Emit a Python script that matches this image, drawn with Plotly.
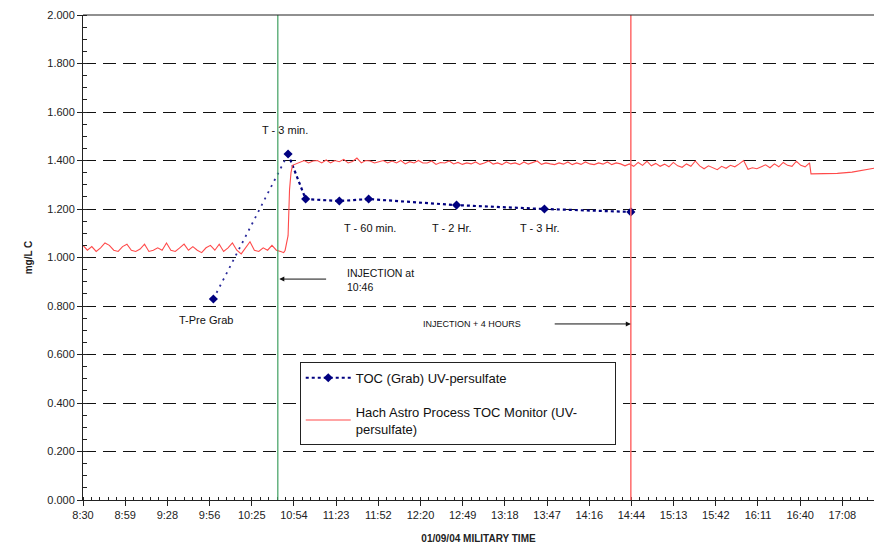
import pandas as pd
import plotly.graph_objects as go

DAY = "2004-01-09 "

# TOC grab samples (UV-persulfate)
grab_times = ["09:59", "10:50", "11:02", "11:25", "11:45", "12:45", "13:45", "14:44"]
grab_values = [0.829, 1.427, 1.241, 1.233, 1.241, 1.216, 1.200, 1.188]

# Hach Astro process monitor (read every 3 min)
hach_base_start = "08:30"
hach_base = [1.05, 1.03, 1.045, 1.025, 1.04, 1.06, 1.05, 1.03, 1.025, 1.045,
             1.055, 1.03, 1.025, 1.035, 1.055, 1.025, 1.03, 1.04, 1.03, 1.06,
             1.03, 1.025, 1.04, 1.055, 1.03, 1.045, 1.03, 1.02, 1.04, 1.05,
             1.03, 1.055, 1.025, 1.04, 1.06, 1.03, 1.015, 1.04, 1.065, 1.03,
             1.025, 1.04, 1.03, 1.05, 1.03, 1.025]
hach_rise_times = ["10:47", "10:48", "10:49", "10:50", "10:51", "10:52", "10:53"]
hach_rise = [1.02, 1.03, 1.07, 1.09, 1.28, 1.35, 1.38]
hach_high_start = "10:55"
hach_high = [1.385, 1.395, 1.40, 1.39, 1.398, 1.40, 1.39, 1.402, 1.39, 1.40,
             1.395, 1.405, 1.39, 1.396, 1.41, 1.39, 1.40, 1.398, 1.39, 1.395,
             1.40, 1.39, 1.398, 1.39, 1.40, 1.386, 1.395, 1.39, 1.40, 1.39,
             1.39, 1.398, 1.384, 1.392, 1.39, 1.398, 1.386, 1.392, 1.384, 1.39,
             1.386, 1.394, 1.384, 1.39, 1.398, 1.385, 1.39, 1.383, 1.394, 1.386,
             1.39, 1.383, 1.394, 1.385, 1.39, 1.398, 1.384, 1.39, 1.386, 1.383,
             1.39, 1.385, 1.394, 1.383, 1.39, 1.384, 1.394, 1.386, 1.383, 1.39,
             1.385, 1.394, 1.383, 1.39, 1.386, 1.378, 1.386, 1.376, 1.392, 1.38,
             1.397, 1.378, 1.388, 1.376, 1.385, 1.374, 1.392, 1.378, 1.372, 1.386,
             1.376, 1.398, 1.378, 1.366, 1.378, 1.37, 1.362, 1.376, 1.368, 1.38,
             1.374, 1.386, 1.40, 1.364, 1.37, 1.366, 1.375, 1.382, 1.37, 1.386,
             1.374, 1.392, 1.38, 1.376, 1.397, 1.38, 1.374, 1.39]
hach_tail_times = ["16:47", "17:05", "17:15", "17:30"]
hach_tail = [1.345, 1.347, 1.352, 1.368]

x_tick_labels = ["8:30", "8:59", "9:28", "9:56", "10:25", "10:54", "11:23", "11:52",
                 "12:20", "12:49", "13:18", "13:47", "14:16", "14:44", "15:13",
                 "15:42", "16:11", "16:40", "17:08"]

injection_time = "10:43"
plus4_time = "14:44"

def ts(t):
    return pd.Timestamp(DAY + t)

hach_x = (list(pd.date_range(ts(hach_base_start), periods=len(hach_base), freq="3min"))
          + [ts(t) for t in hach_rise_times]
          + list(pd.date_range(ts(hach_high_start), periods=len(hach_high), freq="3min"))
          + [ts(t) for t in hach_tail_times])
hach_y = hach_base + hach_rise + hach_high + hach_tail

start = ts("08:30")
step = pd.Timedelta(minutes=28.8)
tickvals = [start + i * step for i in range(len(x_tick_labels))]

font = "Liberation Sans, Arial, sans-serif"
grab_x = [ts(t) for t in grab_times]

fig = go.Figure()
# sparse dotted segment from the pre-grab to T-3 min
fig.add_trace(go.Scatter(
    x=grab_x[:2], y=grab_values[:2], mode="lines", showlegend=False, hoverinfo="skip",
    line=dict(color="#2a2a9a", dash="2px,5px", width=1.8)))
fig.add_trace(go.Scatter(
    x=grab_x[1:], y=grab_values[1:], mode="lines", showlegend=False, hoverinfo="skip",
    line=dict(color="#000080", dash="dot", width=2.2)))
fig.add_trace(go.Scatter(
    x=grab_x, y=grab_values, mode="markers", showlegend=False,
    name="TOC (Grab) UV-persulfate", legendgroup="g1",
    marker=dict(symbol="diamond", size=7, color="#000080")))
# legend entry for the grab series (line + marker sample)
fig.add_trace(go.Scatter(
    x=[None], y=[None], mode="lines+markers", name="TOC (Grab) UV-persulfate",
    legendgroup="g1", showlegend=True,
    line=dict(color="#000080", dash="dot", width=2),
    marker=dict(symbol="diamond", size=7, color="#000080")))
fig.add_trace(go.Scatter(
    x=hach_x, y=hach_y, mode="lines", legendgroup="g2",
    name="Hach Astro Process TOC Monitor (UV-" + "&nbsp;" * 9 + "<br>persulfate)",
    line=dict(color="#ff4a4a", width=1.1)))

fig.add_vline(x=ts(injection_time), line=dict(color="#3f9f60", width=1.2), layer="above")
fig.add_vline(x=ts(plus4_time), line=dict(color="#ff6a6a", width=1.5), layer="above")

ann_font = dict(family=font, size=11, color="#111")
texts = [
    ("10:48", 1.525, "T - 3 min.", "center"),
    ("11:46", 1.12, "T - 60 min.", "center"),
    ("12:42", 1.12, "T - 2 Hr.", "center"),
    ("13:42", 1.12, "T - 3 Hr.", "center"),
    ("09:54", 0.742, "T-Pre Grab", "center"),
]
for t, y, s, al in texts:
    fig.add_annotation(x=ts(t), y=y, text=s, showarrow=False, xanchor=al, font=ann_font)
fig.add_annotation(x=ts("11:29"), y=0.907, text="INJECTION at<br>10:46", showarrow=False,
                   xanchor="left", align="left", font=dict(family=font, size=10.5, color="#111"))
fig.add_annotation(x=ts("10:44"), y=0.911, ax=ts("11:17"), ay=0.911, axref="x", ayref="y",
                   text="", showarrow=True, arrowhead=2, arrowsize=1, arrowwidth=1, arrowcolor="#111")
fig.add_annotation(x=ts("12:21"), y=0.726, text="INJECTION + 4 HOURS", showarrow=False,
                   xanchor="left", font=dict(family=font, size=9, color="#111"))
fig.add_annotation(x=ts("14:44"), y=0.726, ax=ts("13:51"), ay=0.726, axref="x", ayref="y",
                   text="", showarrow=True, arrowhead=2, arrowsize=1, arrowwidth=1, arrowcolor="#111")

fig.update_layout(
    width=874, height=548, margin=dict(l=83, r=0, t=15, b=48),
    paper_bgcolor="white", plot_bgcolor="white",
    font=dict(family=font, size=11, color="#222"),
    showlegend=True,
    legend=dict(x=0.274, y=0.285, xanchor="left", yanchor="top",
                bgcolor="white", bordercolor="#222", borderwidth=1,
                font=dict(family=font, size=13, color="#111"),
                tracegroupgap=14, itemwidth=45),
    xaxis=dict(range=[ts("08:30"), ts("17:30")], tickmode="array", tickvals=tickvals,
               ticktext=x_tick_labels, showgrid=False, showline=True, linecolor="#222",
               mirror=False, ticks="outside", ticklen=5, tickcolor="#222",
               minor=dict(ticks="inside", ticklen=3, tick0=start, dtick=5.76 * 60000,
                          tickcolor="#222", showgrid=False),
               title=dict(text="<b>01/09/04 MILITARY TIME</b>", font=dict(size=10, color="#222"),
                          standoff=14),
               zeroline=False),
    yaxis=dict(range=[0, 2], dtick=0.2, tickformat=".3f", showline=True, linecolor="#222",
               ticks="outside", ticklen=5, tickcolor="#222",
               showgrid=True, gridcolor="#111", griddash="13px,7px", gridwidth=1,
               minor=dict(ticks="inside", ticklen=4, dtick=0.05, tickcolor="#222", showgrid=False),
               title=dict(text="<b>mg/L C</b>", font=dict(size=10, color="#222"), standoff=12),
               zeroline=False),
)
fig.add_shape(type="line", xref="paper", yref="paper", x0=0, x1=1, y0=1, y1=1,
              line=dict(color="#222", width=1.2))

fig.write_html("out.html")
